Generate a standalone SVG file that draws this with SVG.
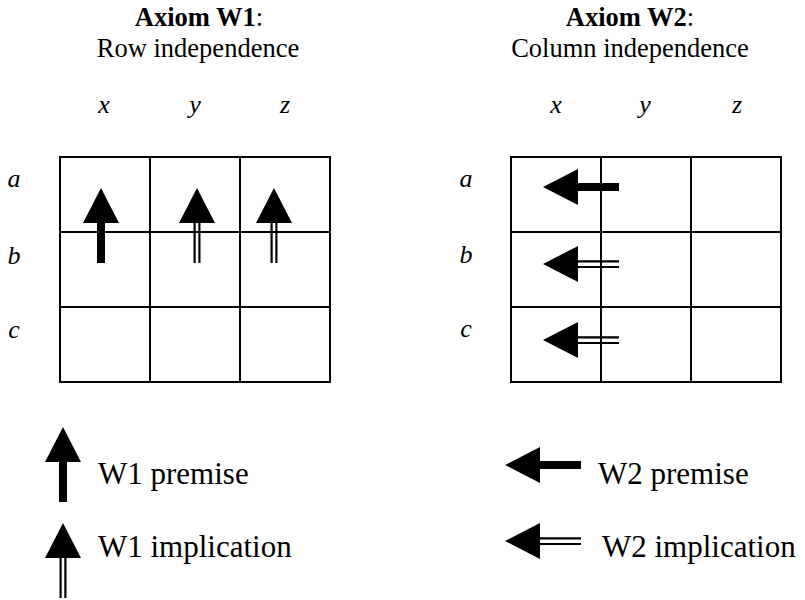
<svg xmlns="http://www.w3.org/2000/svg" xmlns:xlink="http://www.w3.org/1999/xlink" width="805" height="600" viewBox="0 0 805 600">
<style>
text{font-family:"Liberation Serif","Times New Roman",serif;fill:#000}
.hd{font-size:26.5px;text-anchor:middle}
.b{font-weight:bold}
.v{font-size:26px;font-style:italic;text-anchor:middle}
.lg{font-size:31px}
.grid{fill:none;stroke:#000;stroke-width:2}
.dl{stroke:#000;stroke-width:2.2;fill:none}
</style>
<defs>
<g id="upP"><polygon points="0,0 -18,35 18,35" fill="#000"/><rect x="-4" y="34" width="8" height="41" fill="#000"/></g>
<g id="upI"><polygon points="0,0 -18,35 18,35" fill="#000"/><path class="dl" d="M-2.4,34V75M2.4,34V75"/></g>
<g id="ltP"><polygon points="0,0 35,-18 35,18" fill="#000"/><rect x="34" y="-4" width="42" height="8" fill="#000"/></g>
<g id="ltI"><polygon points="0,0 35,-18 35,18" fill="#000"/><path class="dl" d="M34,-2.6H76M34,3H76"/></g>
</defs>
<g id="header-w1">
<text class="hd" x="199" y="26"><tspan class="b">Axiom W1</tspan>:</text>
<text class="hd" x="198" y="57">Row independence</text>
</g>
<g id="header-w2">
<text class="hd" x="630" y="26"><tspan class="b">Axiom W2</tspan>:</text>
<text class="hd" x="630" y="57">Column independence</text>
</g>
<g id="labels-w1">
<text class="v" x="104" y="113">x</text>
<text class="v" x="195" y="113">y</text>
<text class="v" x="285" y="113">z</text>
<text class="v" x="14" y="187">a</text>
<text class="v" x="14" y="264">b</text>
<text class="v" x="14" y="338">c</text>
</g>
<g id="labels-w2">
<text class="v" x="556" y="113">x</text>
<text class="v" x="645" y="113">y</text>
<text class="v" x="737" y="113">z</text>
<text class="v" x="466" y="187">a</text>
<text class="v" x="466" y="263">b</text>
<text class="v" x="466" y="337">c</text>
</g>
<g id="grid-w1" class="grid">
<rect x="60" y="157" width="270" height="225"/>
<path d="M150,157V382M240,157V382M60,232H330M60,307H330"/>
</g>
<g id="grid-w2" class="grid">
<rect x="511" y="157" width="270" height="225"/>
<path d="M601,157V382M691,157V382M511,232H781M511,307H781"/>
</g>
<g id="connectors">
<use xlink:href="#upP" x="101" y="188"/>
<use xlink:href="#upI" x="197" y="188"/>
<use xlink:href="#upI" x="274" y="188"/>
<use xlink:href="#ltP" x="543" y="187"/>
<use xlink:href="#ltI" x="543" y="264"/>
<use xlink:href="#ltI" x="543" y="340"/>
</g>
<g id="legend-w1-premise">
<use xlink:href="#upP" x="63" y="427"/>
<text class="lg" x="98" y="484">W1 premise</text>
</g>
<g id="legend-w1-implication">
<use xlink:href="#upI" x="63" y="523"/>
<text class="lg" x="98" y="557">W1 implication</text>
</g>
<g id="legend-w2-premise">
<use xlink:href="#ltP" x="505" y="465"/>
<text class="lg" x="598" y="484">W2 premise</text>
</g>
<g id="legend-w2-implication">
<use xlink:href="#ltI" x="505" y="541"/>
<text class="lg" x="602" y="557">W2 implication</text>
</g>
</svg>
